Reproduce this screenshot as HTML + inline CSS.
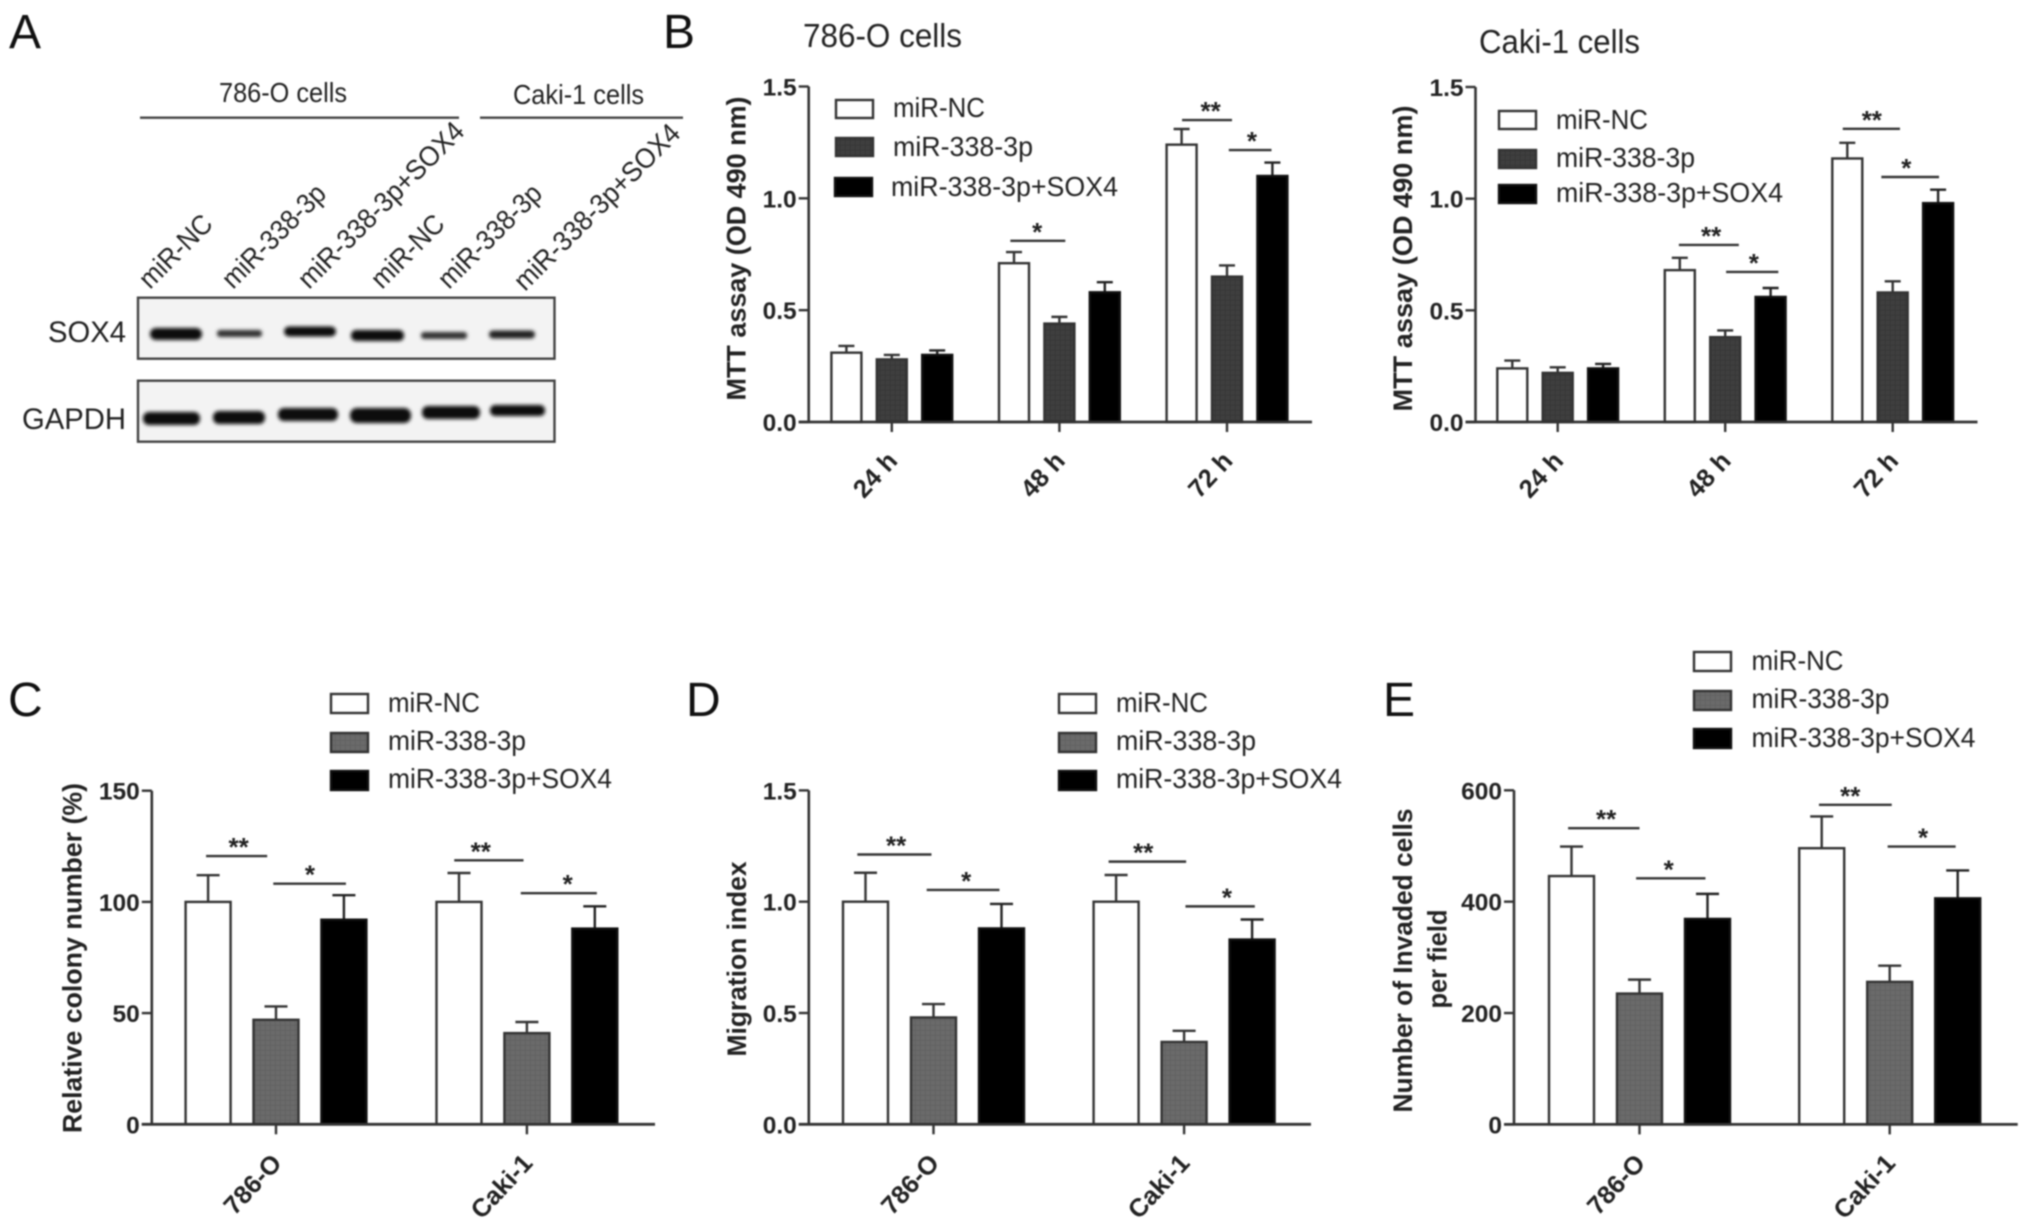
<!DOCTYPE html>
<html lang="en">
<head>
<meta charset="utf-8">
<title>SOX4 western blot and functional assays</title>
<style>
html,body{margin:0;padding:0;background:#fff;width:2031px;height:1220px;overflow:hidden}
svg{display:block;filter:blur(0.7px)}
text{font-family:"Liberation Sans",sans-serif;fill:#222}
.letter{font-size:48px;fill:#111}
.title{font-size:33px}
.lg{font-size:28px}
.blotlabel{font-size:28px}
.ax{font-size:27px;font-weight:bold}
</style>
</head>
<body>
<svg id="fig" xmlns="http://www.w3.org/2000/svg" width="2031" height="1220" viewBox="0 0 2031 1220">
<defs>
<filter id="bandBlur" x="-20%" y="-80%" width="140%" height="260%"><feGaussianBlur stdDeviation="1.8"/></filter>
<pattern id="hatchDark" width="5" height="5" patternUnits="userSpaceOnUse"><rect width="5" height="5" fill="#3e3e3e"/><path d="M0 0H5M0 0V5" stroke="#323232" stroke-width="1"/></pattern>
<pattern id="hatchMid" width="5" height="5" patternUnits="userSpaceOnUse"><rect width="5" height="5" fill="#6a6a6a"/><path d="M0 0H5M0 0V5" stroke="#5c5c5c" stroke-width="1"/></pattern>
</defs>
<rect width="2031" height="1220" fill="#fff"/>

<text class="letter" x="9" y="48">A</text>
<text class="letter" x="663" y="48">B</text>
<text class="letter" x="8" y="716">C</text>
<text class="letter" x="686" y="716">D</text>
<text class="letter" x="1383" y="716">E</text>

<g>
<text class="blotlabel" x="219" y="102" textLength="128" lengthAdjust="spacingAndGlyphs">786-O cells</text>
<text class="blotlabel" x="513" y="104" textLength="131" lengthAdjust="spacingAndGlyphs">Caki-1 cells</text>
<line x1="140" x2="459" y1="117.7" y2="117.7" stroke="#444" stroke-width="2.4"/>
<line x1="480" x2="683" y1="117.7" y2="117.7" stroke="#444" stroke-width="2.4"/>
<text class="blotlabel" transform="translate(150,290) rotate(-45)" textLength="91" lengthAdjust="spacingAndGlyphs">miR-NC</text>
<text class="blotlabel" transform="translate(233,290) rotate(-45)" textLength="134" lengthAdjust="spacingAndGlyphs">miR-338-3p</text>
<text class="blotlabel" transform="translate(309,290) rotate(-45)" textLength="222" lengthAdjust="spacingAndGlyphs">miR-338-3p+SOX4</text>
<text class="blotlabel" transform="translate(382,290) rotate(-45)" textLength="91" lengthAdjust="spacingAndGlyphs">miR-NC</text>
<text class="blotlabel" transform="translate(449,290) rotate(-45)" textLength="134" lengthAdjust="spacingAndGlyphs">miR-338-3p</text>
<text class="blotlabel" transform="translate(525,292) rotate(-45)" textLength="222" lengthAdjust="spacingAndGlyphs">miR-338-3p+SOX4</text>
<text class="blotlabel" x="48" y="342" textLength="78" lengthAdjust="spacingAndGlyphs" style="font-size:30px">SOX4</text>
<text class="blotlabel" x="22" y="429" textLength="104" lengthAdjust="spacingAndGlyphs" style="font-size:30px">GAPDH</text>
<rect x="138" y="297.7" width="416.5" height="61" fill="#f3f3f3" stroke="#444" stroke-width="2.4"/>
<rect x="138" y="380.7" width="416.5" height="61" fill="#f3f3f3" stroke="#444" stroke-width="2.4"/>
<g filter="url(#bandBlur)">
<rect x="150" y="328" width="52" height="12" rx="6" fill="#0c0c0c"/>
<rect x="217" y="330" width="45" height="7" rx="3" fill="#333"/>
<rect x="284" y="326.5" width="52" height="10" rx="5" fill="#111"/>
<rect x="351" y="330" width="53" height="11" rx="5" fill="#0c0c0c"/>
<rect x="421" y="332" width="46" height="7" rx="3" fill="#333"/>
<rect x="489" y="330.5" width="46" height="8" rx="4" fill="#222"/>
</g>
<g filter="url(#bandBlur)">
<rect x="143" y="412" width="57" height="13" rx="6" fill="#111"/>
<rect x="213" y="411" width="52" height="13" rx="6" fill="#111"/>
<rect x="278" y="408" width="60" height="13" rx="6" fill="#0c0c0c"/>
<rect x="350" y="408" width="61" height="15" rx="7" fill="#0c0c0c"/>
<rect x="422" y="406" width="58" height="13" rx="6" fill="#0c0c0c"/>
<rect x="490" y="405" width="55" height="11" rx="5" fill="#0c0c0c"/>
</g>
</g>

<text class="title" x="803" y="47" textLength="159" lengthAdjust="spacingAndGlyphs">786-O cells</text>
<text class="title" x="1479" y="53" textLength="161" lengthAdjust="spacingAndGlyphs">Caki-1 cells</text>

<text class="ax" transform="translate(745.5,400.5) rotate(-90)" textLength="304" lengthAdjust="spacingAndGlyphs">MTT assay (OD 490 nm)</text>
<text class="ax" transform="translate(1412,411.5) rotate(-90)" textLength="306" lengthAdjust="spacingAndGlyphs">MTT assay (OD 490 nm)</text>
<text class="ax" transform="translate(81.5,1133) rotate(-90)" textLength="350" lengthAdjust="spacingAndGlyphs">Relative colony number (%)</text>
<text class="ax" transform="translate(746,1056.5) rotate(-90)" textLength="195" lengthAdjust="spacingAndGlyphs">Migration index</text>
<text class="ax" transform="translate(1412,1112.5) rotate(-90)" textLength="304" lengthAdjust="spacingAndGlyphs">Number of Invaded cells</text>
<text class="ax" transform="translate(1446.5,1008.5) rotate(-90)" textLength="99" lengthAdjust="spacingAndGlyphs">per field</text>

<g>
<rect x="836" y="100" width="37" height="18" fill="#fff" stroke="#333" stroke-width="2.4"/>
<rect x="836" y="138" width="37" height="18" fill="url(#hatchDark)" stroke="#333" stroke-width="2.4"/>
<rect x="835" y="178" width="37" height="18" fill="#000" stroke="#111" stroke-width="2.4"/>
<text class="lg" x="893" y="117" textLength="92" lengthAdjust="spacingAndGlyphs">miR-NC</text>
<text class="lg" x="893" y="156" textLength="140" lengthAdjust="spacingAndGlyphs">miR-338-3p</text>
<text class="lg" x="891" y="196" textLength="227" lengthAdjust="spacingAndGlyphs">miR-338-3p+SOX4</text>
</g>
<g>
<rect x="1499" y="111" width="37" height="18" fill="#fff" stroke="#333" stroke-width="2.4"/>
<rect x="1499" y="150" width="37" height="18" fill="url(#hatchDark)" stroke="#333" stroke-width="2.4"/>
<rect x="1499" y="185" width="37" height="18" fill="#000" stroke="#111" stroke-width="2.4"/>
<text class="lg" x="1556" y="129" textLength="92" lengthAdjust="spacingAndGlyphs">miR-NC</text>
<text class="lg" x="1556" y="167" textLength="139" lengthAdjust="spacingAndGlyphs">miR-338-3p</text>
<text class="lg" x="1556" y="202" textLength="227" lengthAdjust="spacingAndGlyphs">miR-338-3p+SOX4</text>
</g>
<g>
<rect x="331" y="694" width="37" height="19" fill="#fff" stroke="#333" stroke-width="2.4"/>
<rect x="331" y="733" width="37" height="19" fill="url(#hatchMid)" stroke="#333" stroke-width="2.4"/>
<rect x="331" y="771" width="37" height="19" fill="#000" stroke="#111" stroke-width="2.4"/>
<text class="lg" x="388" y="712" textLength="92" lengthAdjust="spacingAndGlyphs">miR-NC</text>
<text class="lg" x="388" y="750" textLength="138" lengthAdjust="spacingAndGlyphs">miR-338-3p</text>
<text class="lg" x="388" y="788" textLength="224" lengthAdjust="spacingAndGlyphs">miR-338-3p+SOX4</text>
</g>
<g>
<rect x="1059" y="694" width="37" height="19" fill="#fff" stroke="#333" stroke-width="2.4"/>
<rect x="1059" y="733" width="37" height="19" fill="url(#hatchMid)" stroke="#333" stroke-width="2.4"/>
<rect x="1059" y="771" width="37" height="19" fill="#000" stroke="#111" stroke-width="2.4"/>
<text class="lg" x="1116" y="712" textLength="92" lengthAdjust="spacingAndGlyphs">miR-NC</text>
<text class="lg" x="1116" y="750" textLength="140" lengthAdjust="spacingAndGlyphs">miR-338-3p</text>
<text class="lg" x="1116" y="788" textLength="226" lengthAdjust="spacingAndGlyphs">miR-338-3p+SOX4</text>
</g>
<g>
<rect x="1694" y="652" width="37" height="19" fill="#fff" stroke="#333" stroke-width="2.4"/>
<rect x="1694" y="691" width="37" height="19" fill="url(#hatchMid)" stroke="#333" stroke-width="2.4"/>
<rect x="1694" y="729" width="37" height="19" fill="#000" stroke="#111" stroke-width="2.4"/>
<text class="lg" x="1751.5" y="670" textLength="92" lengthAdjust="spacingAndGlyphs">miR-NC</text>
<text class="lg" x="1751.5" y="708" textLength="138" lengthAdjust="spacingAndGlyphs">miR-338-3p</text>
<text class="lg" x="1751.5" y="747" textLength="224" lengthAdjust="spacingAndGlyphs">miR-338-3p+SOX4</text>
</g>
</svg>

<script>
const seriesKeys = ['nc', 'mir', 'sox4'];

const b1Categories = ['24 h', '48 h', '72 h'];
const b1Ticks = ['0.0', '0.5', '1.0', '1.5'];
const b1Nc = [0.31, 0.71, 1.24];
const b1Mir = [0.28, 0.44, 0.65];
const b1Sox = [0.30, 0.58, 1.10];
const b1NcErr = [0.03, 0.05, 0.07];
const b1MirErr = [0.02, 0.03, 0.05];
const b1SoxErr = [0.02, 0.045, 0.06];
const b1SigLabels = ['*', '**', '*'];
const b1SigGroups = [1, 2, 2];
const b1SigFrom = [-1.08, -0.99, 0.04];
const b1SigTo = [0.13, 0.11, 0.98];
const b1SigLevels = [0.81, 1.35, 1.216];
const b1SigLabelSlots = [-0.49, -0.36, 0.55];

const b2Categories = ['24 h', '48 h', '72 h'];
const b2Ticks = ['0.0', '0.5', '1.0', '1.5'];
const b2Nc = [0.24, 0.68, 1.18];
const b2Mir = [0.22, 0.38, 0.58];
const b2Sox = [0.24, 0.56, 0.98];
const b2NcErr = [0.035, 0.055, 0.07];
const b2MirErr = [0.025, 0.03, 0.05];
const b2SoxErr = [0.02, 0.04, 0.06];
const b2SigLabels = ['**', '*', '**', '*'];
const b2SigGroups = [1, 1, 2, 2];
const b2SigFrom = [-1.02, 0.02, -1.1, -0.25];
const b2SigTo = [0.3, 1.17, 0.16, 1.02];
const b2SigLevels = [0.793, 0.672, 1.313, 1.097];
const b2SigLabelSlots = [-0.31, 0.63, -0.46, 0.3];

const cCategories = ['786-O', 'Caki-1'];
const cTicks = ['0', '50', '100', '150'];
const cNc = [100, 100];
const cMir = [47, 41];
const cSox = [92, 88];
const cNcErr = [12, 13];
const cMirErr = [6, 5];
const cSoxErr = [11, 10];
const cSigLabels = ['**', '*', '**', '*'];
const cSigGroups = [0, 0, 1, 1];
const cSigFrom = [-1.03, -0.04, -1.07, -0.09];
const cSigTo = [-0.13, 1.03, -0.05, 1.03];
const cSigLevels = [120.6, 108.2, 118.7, 103.9];
const cSigLabelSlots = [-0.55, 0.5, -0.68, 0.6];

const dCategories = ['786-O', 'Caki-1'];
const dTicks = ['0.0', '0.5', '1.0', '1.5'];
const dNc = [1.0, 1.0];
const dMir = [0.48, 0.37];
const dSox = [0.88, 0.83];
const dNcErr = [0.13, 0.12];
const dMirErr = [0.06, 0.05];
const dSoxErr = [0.11, 0.09];
const dSigLabels = ['**', '*', '**', '*'];
const dSigGroups = [0, 0, 1, 1];
const dSigFrom = [-1.12, -0.1, -1.11, 0.02];
const dSigTo = [-0.03, 0.97, 0.03, 1.04];
const dSigLevels = [1.212, 1.053, 1.18, 0.979];
const dSigLabelSlots = [-0.55, 0.48, -0.6, 0.63];

const eCategories = ['786-O', 'Caki-1'];
const eTicks = ['0', '200', '400', '600'];
const eNc = [446, 496];
const eMir = [235, 256];
const eSox = [369, 406];
const eNcErr = [53, 57];
const eMirErr = [25, 29];
const eSoxErr = [45, 50];
const eSigLabels = ['**', '*', '**', '*'];
const eSigGroups = [0, 0, 1, 1];
const eSigFrom = [-1.05, -0.05, -1.04, -0.03];
const eSigTo = [0, 0.97, 0.03, 0.97];
const eSigLevels = [532, 442, 574, 499];
const eSigLabelSlots = [-0.49, 0.43, -0.58, 0.49];

const SVGNS = 'http://www.w3.org/2000/svg';
const root = document.getElementById('fig');

function node(parent, tag, attrs, text) {
  const el = document.createElementNS(SVGNS, tag);
  for (const k in attrs) el.setAttribute(k, attrs[k]);
  if (text !== undefined) el.textContent = text;
  parent.appendChild(el);
  return el;
}

function drawChart(o) {
  const yScale = function (v) { return o.y0 - (v / o.yMax) * (o.y0 - o.yTop); };
  const groupCenter = function (g) { return o.firstCenter + g * o.groupGap; };
  const xScale = function (g, slot) { return groupCenter(g) + slot * o.step; };

  const g = node(root, 'g', {});
  
  

  o.series.forEach(function (vals, s) {
    vals.forEach(function (v, c) {
      const cx = xScale(c, s - 1);
      const cap = node(g, 'path', {
        d: 'M' + cx + ' ' + yScale(v) + 'V' + yScale(v + o.errors[s][c]) +
           'M' + (cx - o.capW / 2) + ' ' + yScale(v + o.errors[s][c]) + 'H' + (cx + o.capW / 2),
        stroke: s === 2 ? '#222' : '#333', 'stroke-width': 2.4, fill: 'none'
      });
      
      

      const bar = node(g, 'rect', {
        x: cx - o.barW / 2, y: yScale(v), width: o.barW, height: o.y0 - yScale(v),
        fill: o.fills[s], stroke: s === 2 ? '#111' : '#333', 'stroke-width': 2.4
      });
      
      
    });
  });

  o.sigLabels.forEach(function (lab, i) {
    const ly = yScale(o.sigLevels[i]);
    const x1 = xScale(o.sigGroups[i], o.sigFrom[i]);
    const x2 = xScale(o.sigGroups[i], o.sigTo[i]);
    const line = node(g, 'line', { x1: x1, x2: x2, y1: ly, y2: ly, stroke: '#333', 'stroke-width': 2.4 });
    
    
    const star = node(g, 'text', {
      x: xScale(o.sigGroups[i], o.sigLabelSlots[i]), y: ly, 'text-anchor': 'middle',
      style: 'font-size:26px;font-weight:bold'
    }, lab);
    
    
  });

  const yAxis = node(g, 'line', { x1: o.axisX, x2: o.axisX, y1: o.yTop, y2: o.y0, stroke: '#333', 'stroke-width': 2.6 });
  
  
  const xAxis = node(g, 'line', { x1: o.axisX - 10, x2: o.axisEnd, y1: o.y0, y2: o.y0, stroke: '#333', 'stroke-width': 2.8 });
  
  

  o.ticks.forEach(function (t) {
    const ty = yScale(parseFloat(t));
    const tick = node(g, 'line', { x1: o.axisX - 10, x2: o.axisX, y1: ty, y2: ty, stroke: '#333', 'stroke-width': 2.4 });
    
    
    const lab = node(g, 'text', {
      x: o.axisX - 12, y: ty + 9, 'text-anchor': 'end', style: 'font-size:24.5px;font-weight:bold'
    }, t);
    
    
  });

  o.categories.forEach(function (cat, c) {
    const cx = groupCenter(c);
    const tick = node(g, 'line', { x1: cx, x2: cx, y1: o.y0, y2: o.y0 + 10, stroke: '#333', 'stroke-width': 2.4 });
    
    
    const lab = node(g, 'text', {
      transform: 'translate(' + (cx + 7) + ',' + (o.y0 + 40) + ') rotate(-47)',
      'text-anchor': 'end', style: 'font-size:25.5px;font-weight:bold'
    }, cat);
    
    
  });
}

drawChart({
  name: 'chart-b-786-o', axisX: 808.7, axisEnd: 1312, y0: 422, yTop: 86.5, yMax: 1.5,
  firstCenter: 891.8, groupGap: 167.6, step: 45.4, barW: 30, capW: 16,
  fills: ['#fff', 'url(#hatchDark)', '#000'], categories: b1Categories, ticks: b1Ticks,
  series: [b1Nc, b1Mir, b1Sox], errors: [b1NcErr, b1MirErr, b1SoxErr],
  sigLabels: b1SigLabels, sigGroups: b1SigGroups, sigFrom: b1SigFrom, sigTo: b1SigTo, sigLevels: b1SigLevels, sigLabelSlots: b1SigLabelSlots
});
drawChart({
  name: 'chart-b-caki-1', axisX: 1475.5, axisEnd: 1977.5, y0: 422, yTop: 87, yMax: 1.5,
  firstCenter: 1557.7, groupGap: 167.5, step: 45.4, barW: 30, capW: 16,
  fills: ['#fff', 'url(#hatchDark)', '#000'], categories: b2Categories, ticks: b2Ticks,
  series: [b2Nc, b2Mir, b2Sox], errors: [b2NcErr, b2MirErr, b2SoxErr],
  sigLabels: b2SigLabels, sigGroups: b2SigGroups, sigFrom: b2SigFrom, sigTo: b2SigTo, sigLevels: b2SigLevels, sigLabelSlots: b2SigLabelSlots
});
drawChart({
  name: 'chart-c', axisX: 151.8, axisEnd: 655, y0: 1124.3, yTop: 790.7, yMax: 150,
  firstCenter: 276, groupGap: 250.9, step: 67.9, barW: 45, capW: 23,
  fills: ['#fff', 'url(#hatchMid)', '#000'], categories: cCategories, ticks: cTicks,
  series: [cNc, cMir, cSox], errors: [cNcErr, cMirErr, cSoxErr],
  sigLabels: cSigLabels, sigGroups: cSigGroups, sigFrom: cSigFrom, sigTo: cSigTo, sigLevels: cSigLevels, sigLabelSlots: cSigLabelSlots
});
drawChart({
  name: 'chart-d', axisX: 808.8, axisEnd: 1311, y0: 1124.3, yTop: 790.4, yMax: 1.5,
  firstCenter: 933.5, groupGap: 250.6, step: 68, barW: 45, capW: 23,
  fills: ['#fff', 'url(#hatchMid)', '#000'], categories: dCategories, ticks: dTicks,
  series: [dNc, dMir, dSox], errors: [dNcErr, dMirErr, dSoxErr],
  sigLabels: dSigLabels, sigGroups: dSigGroups, sigFrom: dSigFrom, sigTo: dSigTo, sigLevels: dSigLevels, sigLabelSlots: dSigLabelSlots
});
drawChart({
  name: 'chart-e', axisX: 1514, axisEnd: 2017.7, y0: 1124.4, yTop: 790.3, yMax: 600,
  firstCenter: 1639.5, groupGap: 250.2, step: 68, barW: 45, capW: 23,
  fills: ['#fff', 'url(#hatchMid)', '#000'], categories: eCategories, ticks: eTicks,
  series: [eNc, eMir, eSox], errors: [eNcErr, eMirErr, eSoxErr],
  sigLabels: eSigLabels, sigGroups: eSigGroups, sigFrom: eSigFrom, sigTo: eSigTo, sigLevels: eSigLevels, sigLabelSlots: eSigLabelSlots
});
</script>
</body>
</html>
